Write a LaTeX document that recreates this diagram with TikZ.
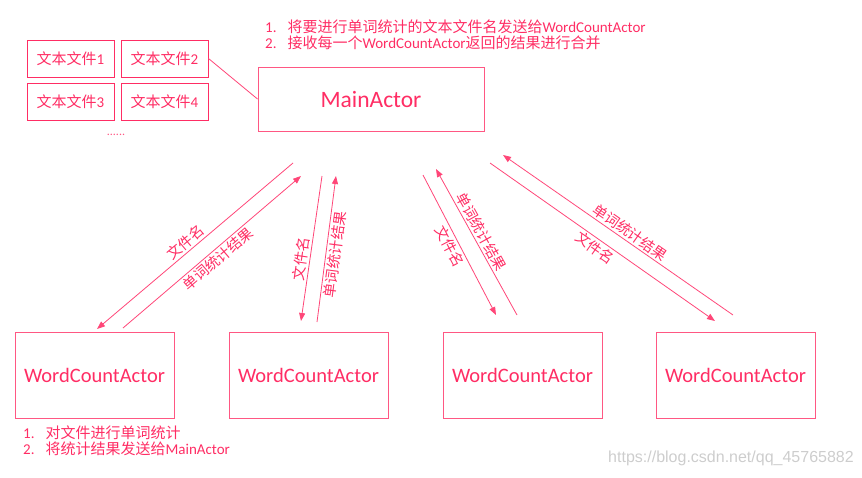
\documentclass[tikz,border=0pt]{standalone}
\usepackage{fontspec}
\setmainfont{Carlito}
\newfontfamily\cjk{Noto Sans CJK SC}
\newfontfamily\wmfont{Liberation Sans}
\usetikzlibrary{arrows.meta}
\definecolor{pk}{RGB}{255,45,100}
\definecolor{pkl}{RGB}{255,70,120}
\definecolor{wm}{RGB}{205,205,205}
\begin{document}
\begin{tikzpicture}[x=1pt,y=-1pt,
  filebox/.style={draw=pk,line width=1pt,minimum width=87pt,minimum height=37pt,inner sep=0pt,text=pk,font=\fontsize{15}{18}\selectfont},
  actorbox/.style={draw=pk!80,line width=1pt,minimum width=159pt,minimum height=86pt,inner sep=0pt,text=pk,font=\fontsize{20.5}{24}\selectfont},
  msg/.style={draw=pkl,line width=0.8pt,-{Triangle[length=8pt,width=6pt]}},
  lbl/.style={sloped,text=pk,inner sep=2pt,font=\cjk\fontsize{14.5}{16}\selectfont},
  note/.style={text=pk,inner sep=0pt,align=left,font=\fontsize{15}{18}\selectfont}]
\useasboundingbox (0,0) rectangle (862,477);
% file boxes
\node[filebox] (f1) at (70.5,58.5) {{\cjk 文本文件}1};
\node[filebox] (f2) at (164.5,58.5) {{\cjk 文本文件}2};
\node[filebox] (f3) at (70.5,101.5) {{\cjk 文本文件}3};
\node[filebox] (f4) at (164.5,101.5) {{\cjk 文本文件}4};
\node[text=pk!80,inner sep=0pt,font=\fontsize{12}{12}\selectfont] (dots) at (116,135) {......};
% main actor
\node[draw=pk!80,line width=1pt,minimum width=226pt,minimum height=64pt,inner sep=0pt,text=pk,font=\fontsize{23.5}{26}\selectfont] (main) at (371,99) {MainActor};
\draw[pkl,line width=0.8pt] (f2.east) -- (main.west);
% top note
\node[note,anchor=west] (topnote) at (265,37) {\begin{tabular}{@{}l@{\hspace{11pt}}l@{}}1. & {\cjk 将要进行单词统计的文本文件名发送给}WordCountActor\\[-2pt]
2. & {\cjk 接收每一个}WordCountActor{\cjk 返回的结果进行合并}\end{tabular}};
% worker actors
\node[actorbox] (w1) at (94.5,375) {WordCountActor};
\node[actorbox] (w2) at (308.5,375) {WordCountActor};
\node[actorbox] (w3) at (522.5,375) {WordCountActor};
\node[actorbox] (w4) at (735.5,375) {WordCountActor};
% bottom note
\node[note,anchor=west] (botnote) at (23,443) {\begin{tabular}{@{}l@{\hspace{11pt}}l@{}}1. & {\cjk 对文件进行单词统计}\\[-2pt]
2. & {\cjk 将统计结果发送给}MainActor\end{tabular}};
% endpoints
\coordinate (a1s) at (293,163); \coordinate (a1e) at (97,329);
\coordinate (b1s) at (123,328); \coordinate (b1e) at (301,176);
\coordinate (a2s) at (322,176); \coordinate (a2e) at (301,321);
\coordinate (b2s) at (317,322); \coordinate (b2e) at (336,176);
\coordinate (a3s) at (423,175); \coordinate (a3e) at (496,315);
\coordinate (b3s) at (517,315); \coordinate (b3e) at (436,169);
\coordinate (a4s) at (490,163); \coordinate (a4e) at (715,321);
\coordinate (b4s) at (733,315); \coordinate (b4e) at (503,155);
% messages
\draw[msg] (a1s) -- node[lbl,above,pos=0.52] (l1a) {文件名} (a1e);
\draw[msg] (b1s) -- node[lbl,below,pos=0.5] (l1b) {单词统计结果} (b1e);
\draw[msg] (a2s) -- node[lbl,above,pos=0.58] (l2a) {文件名} (a2e);
\draw[msg] (b2s) -- node[lbl,below,pos=0.47] (l2b) {单词统计结果} (b2e);
\draw[msg] (a3s) -- node[lbl,below,pos=0.48] (l3a) {文件名} (a3e);
\draw[msg] (b3s) -- node[lbl,above,pos=0.54] (l3b) {单词统计结果} (b3e);
\draw[msg] (a4s) -- node[lbl,below,pos=0.49] (l4a) {文件名} (a4e);
\draw[msg] (b4s) -- node[lbl,above,pos=0.47] (l4b) {单词统计结果} (b4e);
% watermark
\node[text=wm,inner sep=0pt,font=\wmfont\fontsize{16}{16}\selectfont] (wmk) at (731,458) {https://blog.csdn.net/qq\_45765882};
\end{tikzpicture}
\end{document}
